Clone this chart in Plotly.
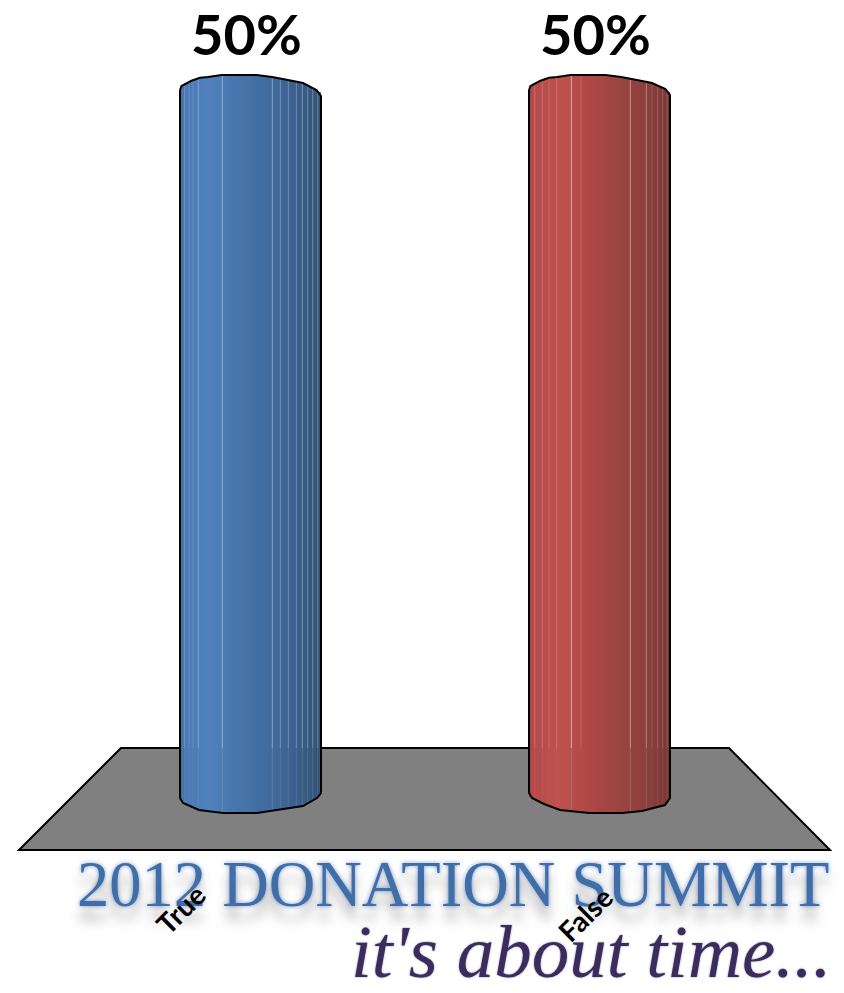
import numpy as np
import plotly.graph_objects as go

# Poll result
categories = ["True", "False"]
percentages = [50, 50]

# Page and plot geometry (pixels)
PAGE_W, PAGE_H = 844, 993
CENTER_PX = [250.5, 599.5]
UNIT_PX = CENTER_PX[1] - CENTER_PX[0]
Y_ZERO_PX, Y_TOP_PX = 797, 92
PX_PER_PCT = (Y_ZERO_PX - Y_TOP_PX) / percentages[0]
HALF_W_PX = 70.5
STRIP_PX = 2


def px_x(px):
    return (px - CENTER_PX[0]) / UNIT_PX


def paper_x(px):
    return px / PAGE_W


def paper_y(px):
    return 1 - px / PAGE_H


# Cylinder look: outline offsets (px from the left edge, rise above the top, drop below the base)
rim_top = {
    "x": [[0, 1.5, 11.5, 20, 28, 41.5, 76.5, 92, 108, 123, 136.5, 141],
          [0, 1.5, 11.5, 20, 28, 41.5, 76.5, 92, 108, 123, 136.5, 141]],
    "rise": [[2, 6, 11.3, 14.3, 15, 17, 17, 15, 12, 9, 2, -4],
             [2, 6, 11.3, 14.3, 15, 17, 17, 15, 12, 9, 3, -3]],
}
rim_bottom = {
    "x": [[0, 3, 19, 43, 77, 93, 123, 137, 141],
          [0, 3, 15, 31, 60, 93, 113, 136, 141]],
    "drop": [[1, 6, 13, 16, 16, 14, 9, 1, -4],
             [-4, 1, 7, 13, 16, 16, 14, 8, 1]],
}
shade_x = [0, 5, 30, 60, 92, 120, 141]
shades = [
    ["#41719f", "#4a7ab5", "#4f81bd", "#4674aa", "#416a9e", "#395d89", "#335376"],
    ["#a84643", "#b64b49", "#c0504d", "#ae4845", "#9b4441", "#8a3e3b", "#793634"],
]
# Facet seams: (px from the left edge, strength)
seams = [
    [(4.7, .2), (9, .15), (13, .15), (18.3, .3), (42.3, .4), (92.3, .4), (100.3, .3),
     (108.3, .3), (116.3, .3), (122.3, .35), (127.7, .3), (132.7, .3), (137.7, .25)],
    [(5.7, .2), (13.3, .2), (20, .15), (27.7, .2), (42.3, .55), (52, .15), (101.3, .45),
     (117.3, .35), (123, .15), (128.7, .2), (133.7, .2), (138, .2)],
]
FLOOR_BACK_PX = 748


def mix(stops, pos):
    rgb = np.array([[int(c[i:i + 2], 16) for i in (1, 3, 5)] for c in stops], float)
    vals = [np.interp(pos, shade_x, rgb[:, k]) for k in range(3)]
    return "rgb(%d,%d,%d)" % tuple(round(v) for v in vals)


fig = go.Figure()

# Value bars
fig.add_trace(go.Bar(
    x=list(range(len(categories))), y=percentages, base=0,
    width=2 * HALF_W_PX / UNIT_PX,
    marker=dict(color=[shades[0][3], shades[1][3]], line_width=0),
    hoverinfo="x+y", showlegend=False,
))

for i, value in enumerate(percentages):
    left_px = CENTER_PX[i] - HALF_W_PX
    pos = np.arange(STRIP_PX / 2, 2 * HALF_W_PX, STRIP_PX)
    rise = np.interp(pos, rim_top["x"][i], rim_top["rise"][i]) / PX_PER_PCT
    drop = np.interp(pos, rim_bottom["x"][i], rim_bottom["drop"][i]) / PX_PER_PCT

    # Vertical shading strips with curved ends
    fig.add_trace(go.Bar(
        x=px_x(left_px + pos), y=value + rise + drop, base=-drop,
        width=STRIP_PX / UNIT_PX,
        marker=dict(color=[mix(shades[i], p) for p in pos], line_width=0),
        hoverinfo="skip", showlegend=False,
    ))

    # Facet seams: pale above the back of the floor, greyer in front of it
    back_y = (Y_ZERO_PX - FLOOR_BACK_PX) / PX_PER_PCT
    for p, strength in seams[i]:
        sx = px_x(left_px + p)
        top = value + np.interp(p, rim_top["x"][i], rim_top["rise"][i]) / PX_PER_PCT
        low = -np.interp(p, rim_bottom["x"][i], rim_bottom["drop"][i]) / PX_PER_PCT
        fig.add_trace(go.Scatter(
            x=[sx, sx], y=[top, back_y], mode="lines",
            line=dict(color=f"rgba(255,255,255,{strength})", width=1),
            hoverinfo="skip", showlegend=False,
        ))
        fig.add_trace(go.Scatter(
            x=[sx, sx], y=[back_y, low], mode="lines",
            line=dict(color=f"rgba(150,150,150,{strength})", width=1),
            hoverinfo="skip", showlegend=False,
        ))

    # Black silhouette
    top_x = np.array(rim_top["x"][i], float)
    bot_x = np.array(rim_bottom["x"][i], float)
    xs = np.concatenate([top_x, bot_x[::-1], top_x[:1]])
    ys = np.concatenate([
        value + np.array(rim_top["rise"][i]) / PX_PER_PCT,
        -np.array(rim_bottom["drop"][i])[::-1] / PX_PER_PCT,
        [value + rim_top["rise"][i][0] / PX_PER_PCT],
    ])
    fig.add_trace(go.Scatter(
        x=px_x(left_px + xs), y=ys, mode="lines",
        line=dict(color="#000000", width=2),
        hoverinfo="skip", showlegend=False,
    ))

# Value labels above the cylinders
for i, value in enumerate(percentages):
    fig.add_annotation(
        x=i, y=value, xshift=-4.5, yshift=59, text=f"{value}%", showarrow=False,
        font=dict(family="Lato", size=56, color="#000000", weight="bold"),
    )

# Event banner behind the category labels
shadow = "0px 14px 12px rgba(80,80,80,0.4), 0px 0px 4px rgba(80,120,190,0.7)"
fig.add_annotation(
    xref="paper", yref="paper", x=paper_x(454), y=paper_y(884),
    xanchor="center", yanchor="middle",
    text="2012 DONATION SUMMIT", showarrow=False,
    font=dict(family="Liberation Serif", size=64.5, color="#3f6ea8", shadow=shadow),
)
fig.add_annotation(
    xref="paper", yref="paper", x=paper_x(591), y=paper_y(951),
    xanchor="center", yanchor="middle",
    text="<i>it's about time...</i>", showarrow=False,
    font=dict(family="Liberation Serif", size=75, color="#3b2c5e",
              shadow="0px 0px 2px rgba(60,45,95,0.6)"),
)

# Category labels
label_shift = [-70, -14.5]
label_y_px = [909, 914]
for i, name in enumerate(categories):
    fig.add_annotation(
        x=i, xshift=label_shift[i], yref="paper", y=paper_y(label_y_px[i]),
        xanchor="center", yanchor="middle",
        text=name, textangle=-45, showarrow=False,
        font=dict(family="Lato", size=28, color="#000000", weight="bold"),
    )

# Grey floor under the cylinders
floor_px = [(121, 748), (729, 748), (830, 850), (19, 850)]
path = "M " + " L ".join(f"{paper_x(a):.5f},{paper_y(b):.5f}" for a, b in floor_px) + " Z"
fig.add_shape(type="path", xref="paper", yref="paper", path=path, layer="below",
              fillcolor="#808080", line=dict(color="#000000", width=2))

fig.update_layout(
    width=PAGE_W, height=PAGE_H,
    margin=dict(l=0, r=0, t=0, b=0),
    paper_bgcolor="#ffffff", plot_bgcolor="rgba(0,0,0,0)",
    barmode="overlay", bargap=0,
    showlegend=False,
    xaxis=dict(range=[px_x(0), px_x(PAGE_W)], visible=False, fixedrange=True),
    yaxis=dict(range=[(Y_ZERO_PX - PAGE_H) / PX_PER_PCT, Y_ZERO_PX / PX_PER_PCT],
               visible=False, fixedrange=True),
)

fig.write_html("out.html", config=dict(displayModeBar=False))
